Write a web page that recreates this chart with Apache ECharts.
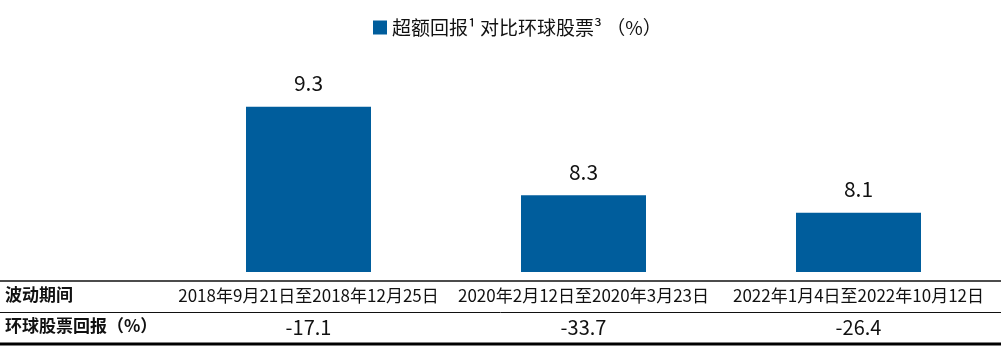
<!DOCTYPE html>
<html>
<head>
<meta charset="utf-8">
<script src="https://cdn.jsdelivr.net/npm/echarts@6/dist/echarts.min.js"></script>
<style>
  html, body { margin: 0; padding: 0; background: #fff; }
  #chart { width: 1005px; height: 354px; }
</style>
</head>
<body>
<div id="chart"></div>
<script>
// 数据
const periods = ['2018年9月21日至2018年12月25日', '2020年2月12日至2020年3月23日', '2022年1月4日至2022年10月12日']
const excessReturn = [9.3, 8.3, 8.1]
const globalReturn = ['-17.1', '-33.7', '-26.4']
const seriesName = '超额回报¹ 对比环球股票³ （%）'
const rowHeaders = ['波动期间', '环球股票回报（%）']

const font = '"Noto Sans CJK SC", "Noto Sans", sans-serif'
const myChart = echarts.init(document.getElementById('chart'))

const option = {
  animation: false,
  textStyle: { fontFamily: font },
  legend: {
    left: 368,
    top: 13,
    itemWidth: 14,
    itemHeight: 14,
    itemGap: 6,
    icon: 'rect',
    textStyle: { fontSize: 19, color: '#111', fontFamily: font },
    data: [seriesName]
  },
  grid: { left: 171, right: 9, top: 45, bottom: 82, containLabel: false },
  xAxis: [
    {
      type: 'category',
      data: periods,
      axisLine: { show: false },
      axisTick: { show: false },
      axisLabel: { margin: 15, fontSize: 17, color: '#111', fontFamily: font, interval: 0 }
    },
    {
      type: 'category',
      position: 'bottom',
      offset: 31,
      data: globalReturn,
      axisLine: { show: false },
      axisTick: { show: false },
      axisLabel: { margin: 14, fontSize: 20, color: '#111', fontFamily: font, interval: 0 }
    }
  ],
  yAxis: {
    type: 'value',
    min: 7.43,
    max: 10,
    show: false,
    splitLine: { show: false }
  },
  series: [
    {
      name: seriesName,
      type: 'bar',
      data: excessReturn,
      barWidth: 125,
      itemStyle: { color: '#005d9c' },
      label: {
        show: true,
        position: 'top',
        distance: 13,
        fontSize: 21,
        color: '#111',
        fontFamily: font
      }
    }
  ],
  graphic: [
    { type: 'line', shape: { x1: 0, y1: 281, x2: 1001, y2: 281 }, style: { stroke: '#111', lineWidth: 1.5 } },
    { type: 'line', shape: { x1: 0, y1: 312.5, x2: 1001, y2: 312.5 }, style: { stroke: '#111', lineWidth: 1 } },
    { type: 'line', shape: { x1: 0, y1: 344, x2: 1001, y2: 344 }, style: { stroke: '#000', lineWidth: 3 } },
    { type: 'text', left: 5, top: 286, style: { text: rowHeaders[0], font: 'bold 17px ' + font, fill: '#111' } },
    { type: 'text', left: 5, top: 317, style: { text: rowHeaders[1], font: 'bold 17px ' + font, fill: '#111' } }
  ]
}
option && myChart.setOption(option)
</script>
</body>
</html>
